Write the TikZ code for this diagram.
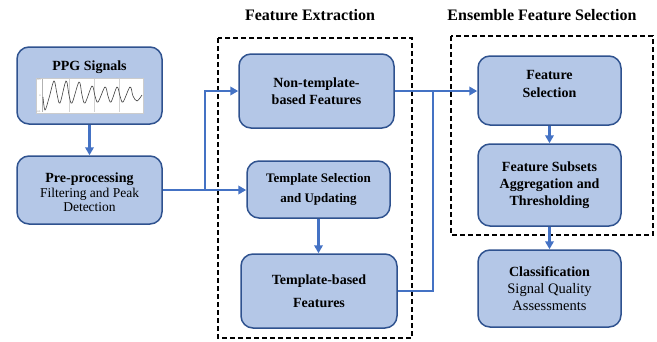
\documentclass[tikz,border=0pt]{standalone}
\usepackage{fontspec}
\setmainfont{Liberation Serif}
\newfontfamily\tnr{Liberation Serif}
\usetikzlibrary{arrows.meta}
\definecolor{boxfill}{HTML}{B4C7E7}
\definecolor{boxdraw}{HTML}{2F528F}
\definecolor{arrowc}{HTML}{4472C4}
\begin{document}
\begin{tikzpicture}[x=1pt,y=-1pt,
  blk/.style={draw=boxdraw, fill=boxfill, line width=1.5pt, rounded corners=12pt, align=center, inner sep=0pt},
  conn/.style={draw=arrowc, line width=2.1pt, -{Triangle[length=8pt,width=8.5pt]}},
  line/.style={draw=arrowc, line width=2.1pt},
  grp/.style={draw=black, dashed, line width=1.4pt, dash pattern=on 5pt off 3pt},
  bt/.style={font=\tnr\fontsize{14}{17}\selectfont\bfseries},
  ttl/.style={font=\tnr\fontsize{16}{19}\selectfont\bfseries}
]
\useasboundingbox (0,0) rectangle (657,341);
% group frames
\draw[grp] (218,38) rectangle (412,338);
\draw[grp] (451,36) rectangle (653,235);
\node[ttl] (fet) at (310,15) {Feature Extraction};
\node[ttl] (efst) at (542,15) {Ensemble Feature Selection};
% boxes
\node[blk, minimum width=145pt, minimum height=77pt] (ppg) at (89.5,85.5) {};
\node[bt] (ppgt) at (89.5,67) {PPG Signals};
% mini plot
\fill[white] (36,78) rectangle (143,113);
\draw[gray!40, line width=0.3pt] (36,78) rectangle (143,113);
\foreach \gx in {69,94,119} \draw[gray!35, line width=0.3pt] (\gx,79) -- (\gx,112);
\draw[gray!60, line width=0.3pt] (42.5,79) -- (42.5,112);
\node[font=\tnr\fontsize{2.5}{3}\selectfont, text=gray] (l1) at (39,80) {0.5};
\node[font=\tnr\fontsize{2.5}{3}\selectfont, text=gray] (l2) at (40,96) {0};
\node[font=\tnr\fontsize{2.5}{3}\selectfont, text=gray] (l3) at (38.5,111.5) {-0.5};
\draw[black!75, line width=0.6pt] plot[smooth, tension=0.55] coordinates {(43,97) (45,110) (49,98) (54,81) (57,94) (60,103) (66,81) (69,95) (72,103) (79,82) (82,95) (85,103) (92,86) (95,96) (98,102) (105,87) (108,96) (111,102) (117,87) (120,96) (123,102) (130,87) (133,96) (137,101) (142,95)};
\node[blk, minimum width=145pt, minimum height=68pt] (pre) at (89.5,190) {};
\node[align=center, font=\tnr\fontsize{13.5}{14.5}\selectfont] (pret) at (89.5,192) {{\fontsize{14}{17}\selectfont\bfseries Pre-processing}\\[0.5pt]Filtering and Peak\\Detection};
\node[blk, bt, minimum width=155pt, minimum height=74pt] (nt) at (316.5,91) {Non-template-\\based Features};
\node[blk, minimum width=143pt, minimum height=57pt, font=\tnr\fontsize{13}{20}\selectfont\bfseries] (ts) at (318.5,189.5) {Template Selection\\and Updating};
\node[blk, minimum width=156pt, minimum height=74pt, font=\tnr\fontsize{14}{23}\selectfont\bfseries] (tb) at (319,291) {Template-based\\Features};
\node[blk, minimum width=143pt, minimum height=69pt] (fs) at (549.5,90.5) {};
\node[align=center, font=\tnr\fontsize{14}{18}\selectfont\bfseries] (fst) at (549.5,84) {Feature\\Selection};
\node[blk, bt, minimum width=143pt, minimum height=82pt] (fsa) at (549.5,185) {Feature Subsets\\Aggregation and\\Thresholding};
\node[blk, minimum width=143pt, minimum height=77pt, font=\tnr\fontsize{14.5}{17}\selectfont] (cl) at (549.5,288.5) {{\fontsize{14}{17}\selectfont\bfseries Classification}\\Signal Quality\\Assessments};
% connectors
\coordinate (j1) at (205,190);
\coordinate (j2) at (433,91);
\draw[conn] (ppg.south) -- (pre.north);
\draw[conn] (pre.east |- j1) -- (ts.west |- j1);
\draw[conn] (j1) |- (nt.west);
\draw[conn] (ts.south) -- (tb.north -| ts.south);
\draw[conn] (nt.east) -- (fs.west |- nt.east);
\draw[line] (tb.east) -| (j2);
\draw[conn] (fs.south) -- (fsa.north);
\draw[conn] (fsa.south) -- (cl.north);
\end{tikzpicture}
\end{document}
